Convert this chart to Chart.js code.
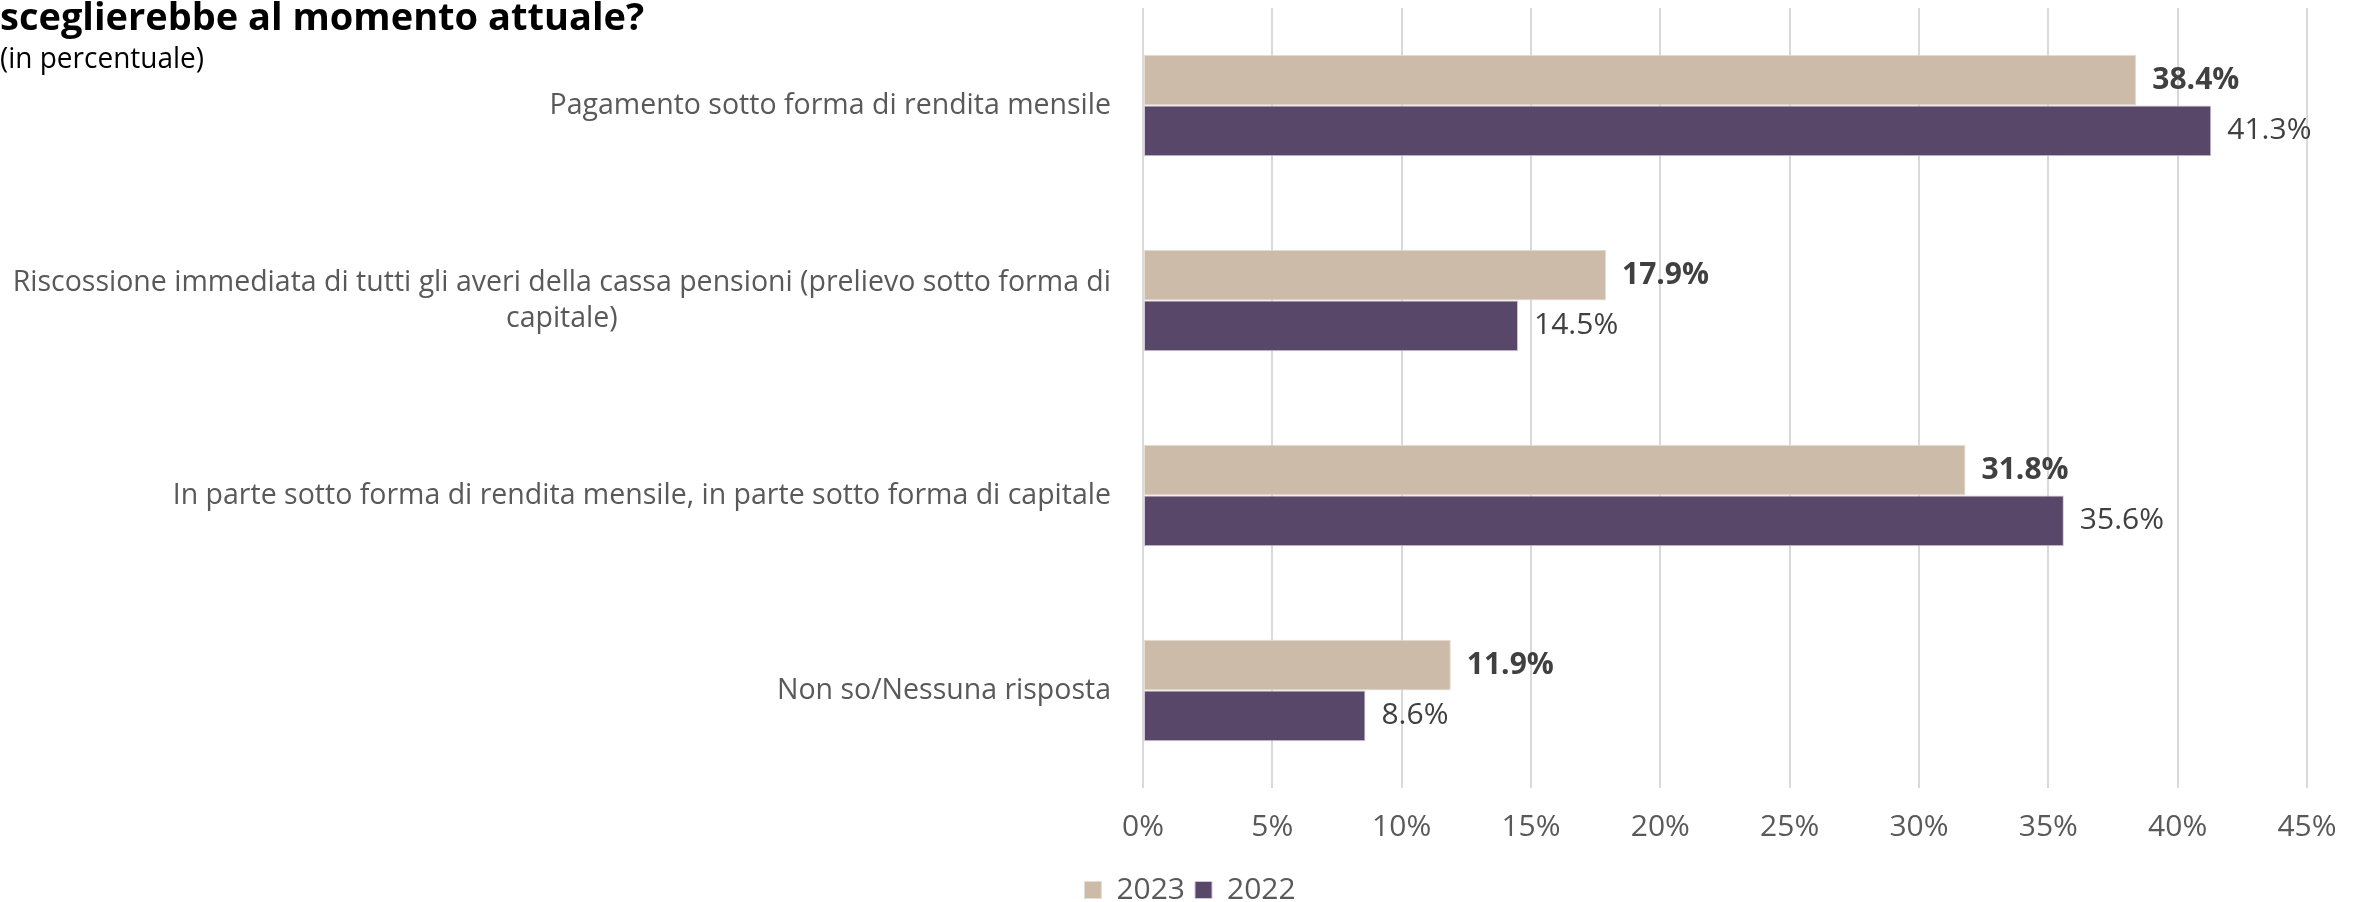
<!DOCTYPE html>
<html><head><meta charset="utf-8">
<script src="https://cdn.jsdelivr.net/npm/chart.js@4.4.0/dist/chart.umd.min.js"></script>
<style>html,body{margin:0;padding:0;background:#fff;}#wrap{position:relative;width:2361px;height:902px;}</style>
</head><body><div id="wrap"><canvas id="c" width="2361" height="902"></canvas></div>
<script>
const categories = [
  ['Pagamento sotto forma di rendita mensile'],
  ['Riscossione immediata di tutti gli averi della cassa pensioni (prelievo sotto forma di', 'capitale)'],
  ['In parte sotto forma di rendita mensile, in parte sotto forma di capitale'],
  ['Non so/Nessuna risposta']
];
const seriesNames = ['2023', '2022'];
const values2023 = [38.4, 17.9, 31.8, 11.9];
const values2022 = [41.3, 14.5, 35.6, 8.6];
const axisMax = 45;
const axisStep = 5;
const titleText = 'sceglierebbe al momento attuale?';
const subtitleText = '(in percentuale)';

const FONT = "'Open Sans', 'DejaVu Sans', sans-serif";
const TEXT_GREY = '#595959';
const LABEL_DARK = '#404040';

const titlePlugin = {
  id: 'titleText',
  afterDraw(chart) {
    const ctx = chart.ctx;
    ctx.save();
    ctx.textAlign = 'left';
    ctx.textBaseline = 'alphabetic';
    ctx.fillStyle = '#000000';
    ctx.font = "bold 38px " + FONT;
    ctx.fillText(titleText, 0, 30, 654);
    ctx.font = "30px " + FONT;
    ctx.fillText(subtitleText, 0, 68, 204);
    ctx.restore();
  }
};

const catLabelPlugin = {
  id: 'catLabels',
  afterDraw(chart) {
    const ctx = chart.ctx;
    const ys = chart.scales.y;
    const right = chart.chartArea.left - 32;
    ctx.save();
    ctx.font = "28.5px " + FONT;
    ctx.fillStyle = TEXT_GREY;
    ctx.textBaseline = 'middle';
    categories.forEach((lines, i) => {
      const cy = ys.getPixelForValue(i);
      const lh = 36;
      const maxW = Math.max(...lines.map(l => ctx.measureText(l).width));
      const startY = cy - (lines.length - 1) * lh / 2;
      lines.forEach((l, j) => {
        if (lines.length === 1) {
          ctx.textAlign = 'right';
          ctx.fillText(l, right, startY);
        } else {
          ctx.textAlign = 'center';
          ctx.fillText(l, right - maxW / 2, startY + j * lh);
        }
      });
    });
    ctx.restore();
  }
};

const valueLabelPlugin = {
  id: 'valueLabels',
  afterDatasetsDraw(chart) {
    const ctx = chart.ctx;
    ctx.save();
    ctx.textAlign = 'left';
    ctx.textBaseline = 'middle';
    ctx.fillStyle = LABEL_DARK;
    chart.data.datasets.forEach((ds, di) => {
      const meta = chart.getDatasetMeta(di);
      ctx.font = (di === 0 ? 'bold ' : '') + "30px " + FONT;
      meta.data.forEach((el, i) => {
        ctx.fillText(ds.data[i].toFixed(1) + '%', el.x + 16, el.y);
      });
    });
    ctx.restore();
  }
};

new Chart(document.getElementById('c'), {
  type: 'bar',
  data: {
    labels: categories.map(c => c.join(' ')),
    datasets: [
      { label: seriesNames[0], data: values2023, backgroundColor: '#CDBBA9', borderColor: '#e6ddd3', borderWidth: 1, borderSkipped: false },
      { label: seriesNames[1], data: values2022, backgroundColor: '#584768', borderColor: '#cfc7d6', borderWidth: 1, borderSkipped: false }
    ]
  },
  options: {
    indexAxis: 'y',
    responsive: false,
    devicePixelRatio: 1,
    animation: false,
    layout: { padding: { top: 8, right: 54, bottom: -13, left: 73 } },
    datasets: { bar: { categoryPercentage: 0.52, barPercentage: 1.0 } },
    scales: {
      x: {
        min: 0, max: axisMax,
        ticks: { stepSize: axisStep, callback: v => v + '%', color: TEXT_GREY, font: { family: FONT, size: 30 }, padding: 21 },
        grid: { color: '#d9d9d9', lineWidth: 2, drawTicks: false },
        border: { display: false },
        afterFit(s) { s.height = 77; }
      },
      y: {
        ticks: { display: false },
        grid: { display: false },
        border: { display: false },
        afterFit(s) { s.width = 1070; }
      }
    },
    plugins: {
      legend: {
        position: 'bottom',
        labels: { color: TEXT_GREY, font: { family: FONT, size: 30 }, boxWidth: 17, boxHeight: 17, padding: 10 }
      },
      tooltip: { enabled: false },
      title: { display: false }
    }
  },
  plugins: [titlePlugin, catLabelPlugin, valueLabelPlugin]
});
</script></body></html>
